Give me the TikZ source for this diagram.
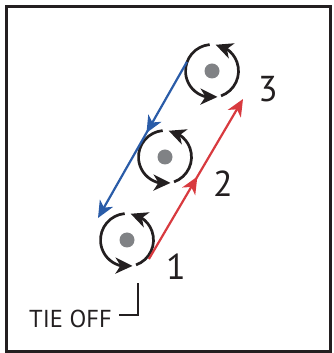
\documentclass[tikz,border=0pt]{standalone}
\usepackage{fontspec}
\setmainfont{PT Sans}
\usetikzlibrary{arrows.meta,bending,decorations.markings,calc}
\definecolor{ink}{HTML}{231F20}
\definecolor{tred}{HTML}{D83A3F}
\definecolor{tblue}{HTML}{2A5CA8}
\definecolor{dotgray}{HTML}{808285}
\begin{document}
\begin{tikzpicture}[x=1pt,y=1pt,
  hole/.style={circle,minimum size=53pt,inner sep=0pt},
  twist/.style={ink,line width=2.7pt,-{Stealth[length=17pt,width=16pt,inset=5pt]}},
  feed/.style={line width=2.2pt,-{Stealth[length=17pt,width=15pt,inset=5pt]}},
  midarrow/.style={postaction={decorate},decoration={markings,mark=at position #1 with {\arrow{Stealth[length=17pt,width=15pt,inset=5pt]}}}},
  num/.style={font=\fontsize{36}{40}\selectfont,text=ink,inner sep=0pt},
  lbl/.style={font=\fontsize{24.5}{30}\selectfont,text=ink,inner sep=0pt},
]
\useasboundingbox (0,0) rectangle (333,353);
\draw[ink,line width=3pt] (6.5,1.8) rectangle (330,346.5);

\node[hole] (c1) at (127,113) {};
\node[hole] (c2) at (165,196) {};
\node[hole] (c3) at (212,282) {};

\foreach \c in {c1,c2,c3}{
  \fill[dotgray] (\c) circle (7.5);
  \draw[twist] ($(\c)+(95:26.5)$) arc[start angle=95,end angle=282,radius=26.5];
  \draw[twist] ($(\c)+(-70:26.5)$) arc[start angle=-70,end angle=82,radius=26.5];
}

\coordinate (rs) at ($(c1)+(-41:29)$);
\coordinate (re) at (243,254);
\draw[feed,tred,midarrow=0.515] (rs) -- (re);

\coordinate (bs) at (c3.160);
\coordinate (be) at (98,135);
\draw[feed,tblue,midarrow=0.455] (bs) -- (be);

\node[num] (n3) at (268,264) {3};
\node[num] (n2) at (223,169) {2};
\node[num] (n1) at (176,86) {1};

\node[lbl,anchor=base west] (tie) at (29,25) {TIE OFF};
\coordinate (tk) at (119,38);
\coordinate (tt) at (138,70);
\draw[ink,line width=1.2pt] (tk) -| (tt);
\end{tikzpicture}
\end{document}
